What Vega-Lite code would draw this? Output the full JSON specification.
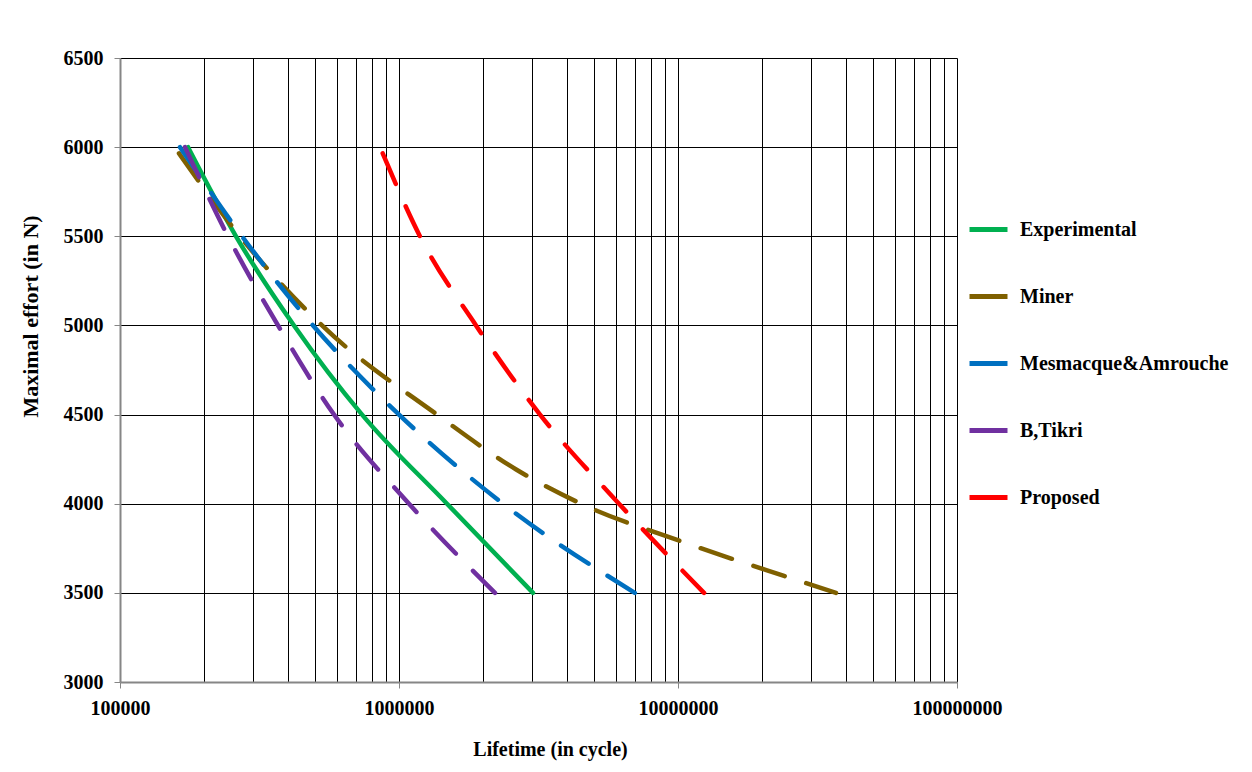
{
  "$schema": "https://vega.github.io/schema/vega-lite/v6.json",
  "width": 837,
  "height": 624,
  "autosize": {"type": "none"},
  "padding": {"left": 120, "top": 58, "right": 295, "bottom": 90},
  "background": "white",
  "config": {"view": {"stroke": null}, "font": "Liberation Serif"},
  "data": {
    "values": [
      {"series": "Experimental", "cycles": 175300, "effort": 6000},
      {"series": "Experimental", "cycles": 260500, "effort": 5500},
      {"series": "Experimental", "cycles": 420300, "effort": 5000},
      {"series": "Experimental", "cycles": 737000, "effort": 4500},
      {"series": "Experimental", "cycles": 1486000, "effort": 4000},
      {"series": "Experimental", "cycles": 3022000, "effort": 3500},
      {"series": "Miner", "cycles": 162700, "effort": 5965},
      {"series": "Miner", "cycles": 269200, "effort": 5500},
      {"series": "Miner", "cycles": 529700, "effort": 5000},
      {"series": "Miner", "cycles": 1368000, "effort": 4500},
      {"series": "Miner", "cycles": 2630000, "effort": 4192},
      {"series": "Miner", "cycles": 4491000, "effort": 4000},
      {"series": "Miner", "cycles": 10340000, "effort": 3787},
      {"series": "Miner", "cycles": 23990000, "effort": 3595},
      {"series": "Miner", "cycles": 36840000, "effort": 3500},
      {"series": "Mesmacque&Amrouche", "cycles": 164100, "effort": 6000},
      {"series": "Mesmacque&Amrouche", "cycles": 273700, "effort": 5500},
      {"series": "Mesmacque&Amrouche", "cycles": 491800, "effort": 5000},
      {"series": "Mesmacque&Amrouche", "cycles": 1000000, "effort": 4500},
      {"series": "Mesmacque&Amrouche", "cycles": 2359000, "effort": 4000},
      {"series": "Mesmacque&Amrouche", "cycles": 7000000, "effort": 3500},
      {"series": "B,Tikri", "cycles": 171000, "effort": 6000},
      {"series": "B,Tikri", "cycles": 243800, "effort": 5500},
      {"series": "B,Tikri", "cycles": 368400, "effort": 5000},
      {"series": "B,Tikri", "cycles": 584800, "effort": 4500},
      {"series": "B,Tikri", "cycles": 1086000, "effort": 4000},
      {"series": "B,Tikri", "cycles": 2208000, "effort": 3500},
      {"series": "Proposed", "cycles": 874100, "effort": 5965},
      {"series": "Proposed", "cycles": 1189000, "effort": 5500},
      {"series": "Proposed", "cycles": 1888000, "effort": 5000},
      {"series": "Proposed", "cycles": 3202000, "effort": 4500},
      {"series": "Proposed", "cycles": 6144000, "effort": 4000},
      {"series": "Proposed", "cycles": 12400000, "effort": 3500}
    ]
  },
  "encoding": {
    "x": {
      "field": "cycles",
      "type": "quantitative",
      "scale": {"type": "log", "domain": [100000, 100000000]},
      "axis": {
        "values": [100000, 200000, 300000, 400000, 500000, 600000, 700000, 800000, 900000, 1000000, 2000000, 3000000, 4000000, 5000000, 6000000, 7000000, 8000000, 9000000, 10000000, 20000000, 30000000, 40000000, 50000000, 60000000, 70000000, 80000000, 90000000, 100000000],
        "title": "Lifetime (in cycle)",
        "grid": true,
        "gridColor": "black",
        "gridWidth": 1,
        "gridOpacity": {"condition": {"test": "datum.value === 100000", "value": 0}, "value": 1},
        "domainColor": "#868686",
        "domainWidth": 2,
        "tickColor": "#868686",
        "tickSize": 6,
        "tickOpacity": {"condition": {"test": "datum.value === 100000 || datum.value === 1000000 || datum.value === 10000000 || datum.value === 100000000", "value": 1}, "value": 0},
        "labelExpr": "(datum.value === 100000 || datum.value === 1000000 || datum.value === 10000000 || datum.value === 100000000) ? format(datum.value, 'd') : ''",
        "labelFont": "Liberation Serif",
        "labelFontSize": 20,
        "labelFontWeight": "bold",
        "labelColor": "black",
        "labelPadding": 10,
        "labelOverlap": false,
        "labelFlush": false,
        "labelBound": false,
        "titleFont": "Liberation Serif",
        "titleFontSize": 20,
        "titleFontWeight": "bold",
        "titleColor": "black",
        "titleX": 430,
        "titleY": 73,
        "titleBaseline": "alphabetic",
        "titleAlign": "center"
      }
    },
    "y": {
      "field": "effort",
      "type": "quantitative",
      "scale": {"domain": [3000, 6500], "nice": false, "zero": false},
      "axis": {
        "values": [3000, 3500, 4000, 4500, 5000, 5500, 6000, 6500],
        "format": "d",
        "title": "Maximal effort (in N)",
        "grid": true,
        "gridColor": "black",
        "gridWidth": 1,
        "gridOpacity": {"condition": {"test": "datum.value === 3000", "value": 0}, "value": 1},
        "domainColor": "#868686",
        "domainWidth": 2,
        "tickColor": "#868686",
        "tickSize": 6,
        "labelFont": "Liberation Serif",
        "labelFontSize": 20,
        "labelFontWeight": "bold",
        "labelColor": "black",
        "labelPadding": 11,
        "titleFont": "Liberation Serif",
        "titleFontSize": 22,
        "titleFontWeight": "bold",
        "titleColor": "black",
        "titleX": -83,
        "titleY": 258,
        "titleBaseline": "alphabetic",
        "titleAlign": "center"
      }
    },
    "color": {
      "field": "series",
      "type": "nominal",
      "scale": {
        "domain": ["Experimental", "Miner", "Mesmacque&Amrouche", "B,Tikri", "Proposed"],
        "range": ["#00B050", "#7F6000", "#0070C0", "#7030A0", "#FF0000"]
      },
      "legend": {
        "orient": "none",
        "legendX": 847,
        "legendY": 150,
        "title": null,
        "symbolType": "stroke",
        "symbolSize": 1444,
        "symbolStrokeWidth": 5,
        "symbolDash": [1, 0],
        "labelFont": "Liberation Serif",
        "labelFontSize": 20,
        "labelFontWeight": "bold",
        "labelColor": "black",
        "labelOffset": 10,
        "labelLimit": 400,
        "rowPadding": 35
      }
    }
  },
  "layer": [
    {
      "transform": [{"filter": "datum.series === 'Experimental'"}],
      "mark": {"type": "line", "strokeWidth": 4.5, "strokeCap": "round", "interpolate": "monotone"}
    },
    {
      "transform": [{"filter": "datum.series !== 'Experimental'"}],
      "mark": {"type": "line", "strokeWidth": 4.5, "strokeCap": "round", "interpolate": "monotone"},
      "encoding": {
        "strokeDash": {
          "field": "series",
          "type": "nominal",
          "scale": {
            "domain": ["Miner", "Mesmacque&Amrouche", "B,Tikri", "Proposed"],
            "range": [[33, 22.6], [33, 22.5], [33, 24.3], [33, 24.5]]
          },
          "legend": null
        }
      }
    }
  ]
}
